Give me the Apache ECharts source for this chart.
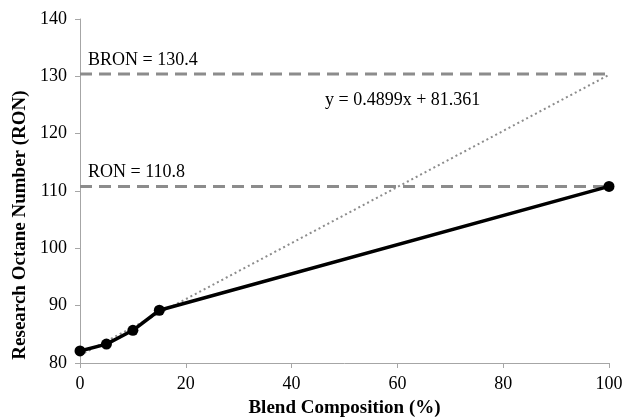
<!DOCTYPE html>
<html><head><meta charset="utf-8">
<script src="https://cdn.jsdelivr.net/npm/echarts@6/dist/echarts.min.js"></script>
<style>html,body{margin:0;padding:0;background:#fff}#c{width:625px;height:419px}</style>
</head><body><div id="c"></div>
<script>
var blendX = [0, 5, 10, 15, 100];
var ronY = [82.1, 83.3, 85.7, 89.2, 110.8];
var trendX = [0, 100];
var trendY = [81.361, 130.261];
var bronValue = 130.4;
var ronValue = 110.8;
var xTicks = [0, 20, 40, 60, 80, 100];
var yTicks = [80, 90, 100, 110, 120, 130, 140];
var equationText = 'y = 0.4899x + 81.361';
var xTitle = 'Blend Composition (%)';
var yTitle = 'Research Octane Number (RON)';

var font = 'Liberation Serif';
var chart = echarts.init(document.getElementById('c'));
function pairs(xs, ys){ return xs.map(function(x,i){return [x, ys[i]];}); }
chart.setOption({
  animation: false,
  textStyle: {fontFamily: font},
  grid: {left: 80, right: 16, top: 19, bottom: 56, containLabel: false, outerBoundsMode: 'none'},
  xAxis: {
    type: 'value', min: xTicks[0], max: xTicks[xTicks.length-1], interval: 20,
    name: xTitle, nameLocation: 'middle', nameGap: 36,
    nameTextStyle: {fontFamily: font, fontWeight: 'bold', fontSize: 19, color: '#000'},
    axisLine: {lineStyle: {color: '#a6a6a6', width: 1}},
    axisTick: {show: true, length: 5, lineStyle: {color: '#a6a6a6'}},
    axisLabel: {fontFamily: font, fontSize: 18, color: '#000', margin: 12},
    splitLine: {show: false}
  },
  yAxis: {
    type: 'value', min: yTicks[0], max: yTicks[yTicks.length-1], interval: 10,
    axisLine: {show: true, lineStyle: {color: '#a6a6a6', width: 1}},
    axisTick: {show: true, length: 5, lineStyle: {color: '#a6a6a6'}},
    axisLabel: {fontFamily: font, fontSize: 18, color: '#000', margin: 13},
    splitLine: {show: false}
  },
  series: [
    {
      type: 'line', data: pairs(trendX, trendY), symbol: 'none', z: 3,
      lineStyle: {color: '#8c8c8c', width: 2, type: [2, 3]}
    },
    {
      type: 'line', data: [[trendX[0], bronValue], [trendX[1], bronValue]], symbol: 'none', z: 2,
      lineStyle: {color: '#8c8c8c', width: 3, type: [12, 7]}
    },
    {
      type: 'line', data: [[trendX[0], ronValue], [trendX[1], ronValue]], symbol: 'none', z: 2,
      lineStyle: {color: '#8c8c8c', width: 3, type: [12, 7]}
    },
    {
      type: 'line', data: pairs(blendX, ronY), symbol: 'circle', symbolSize: 11, z: 4,
      itemStyle: {color: '#000'},
      lineStyle: {color: '#000', width: 3.5}
    }
  ],
  graphic: [
    {type: 'text', x: 20, y: 225, rotation: Math.PI / 2,
     style: {text: yTitle, font: 'bold 19px "Liberation Serif"', fill: '#000', textAlign: 'center', textVerticalAlign: 'middle'}},
    {type: 'text', left: 88, top: 51, style: {text: 'BRON = ' + bronValue, font: '18px "Liberation Serif"', fill: '#000'}},
    {type: 'text', left: 88, top: 163, style: {text: 'RON = ' + ronValue, font: '18px "Liberation Serif"', fill: '#000'}},
    {type: 'text', left: 325, top: 91, style: {text: equationText, font: '18px "Liberation Serif"', fill: '#000'}}
  ]
});
</script></body></html>
